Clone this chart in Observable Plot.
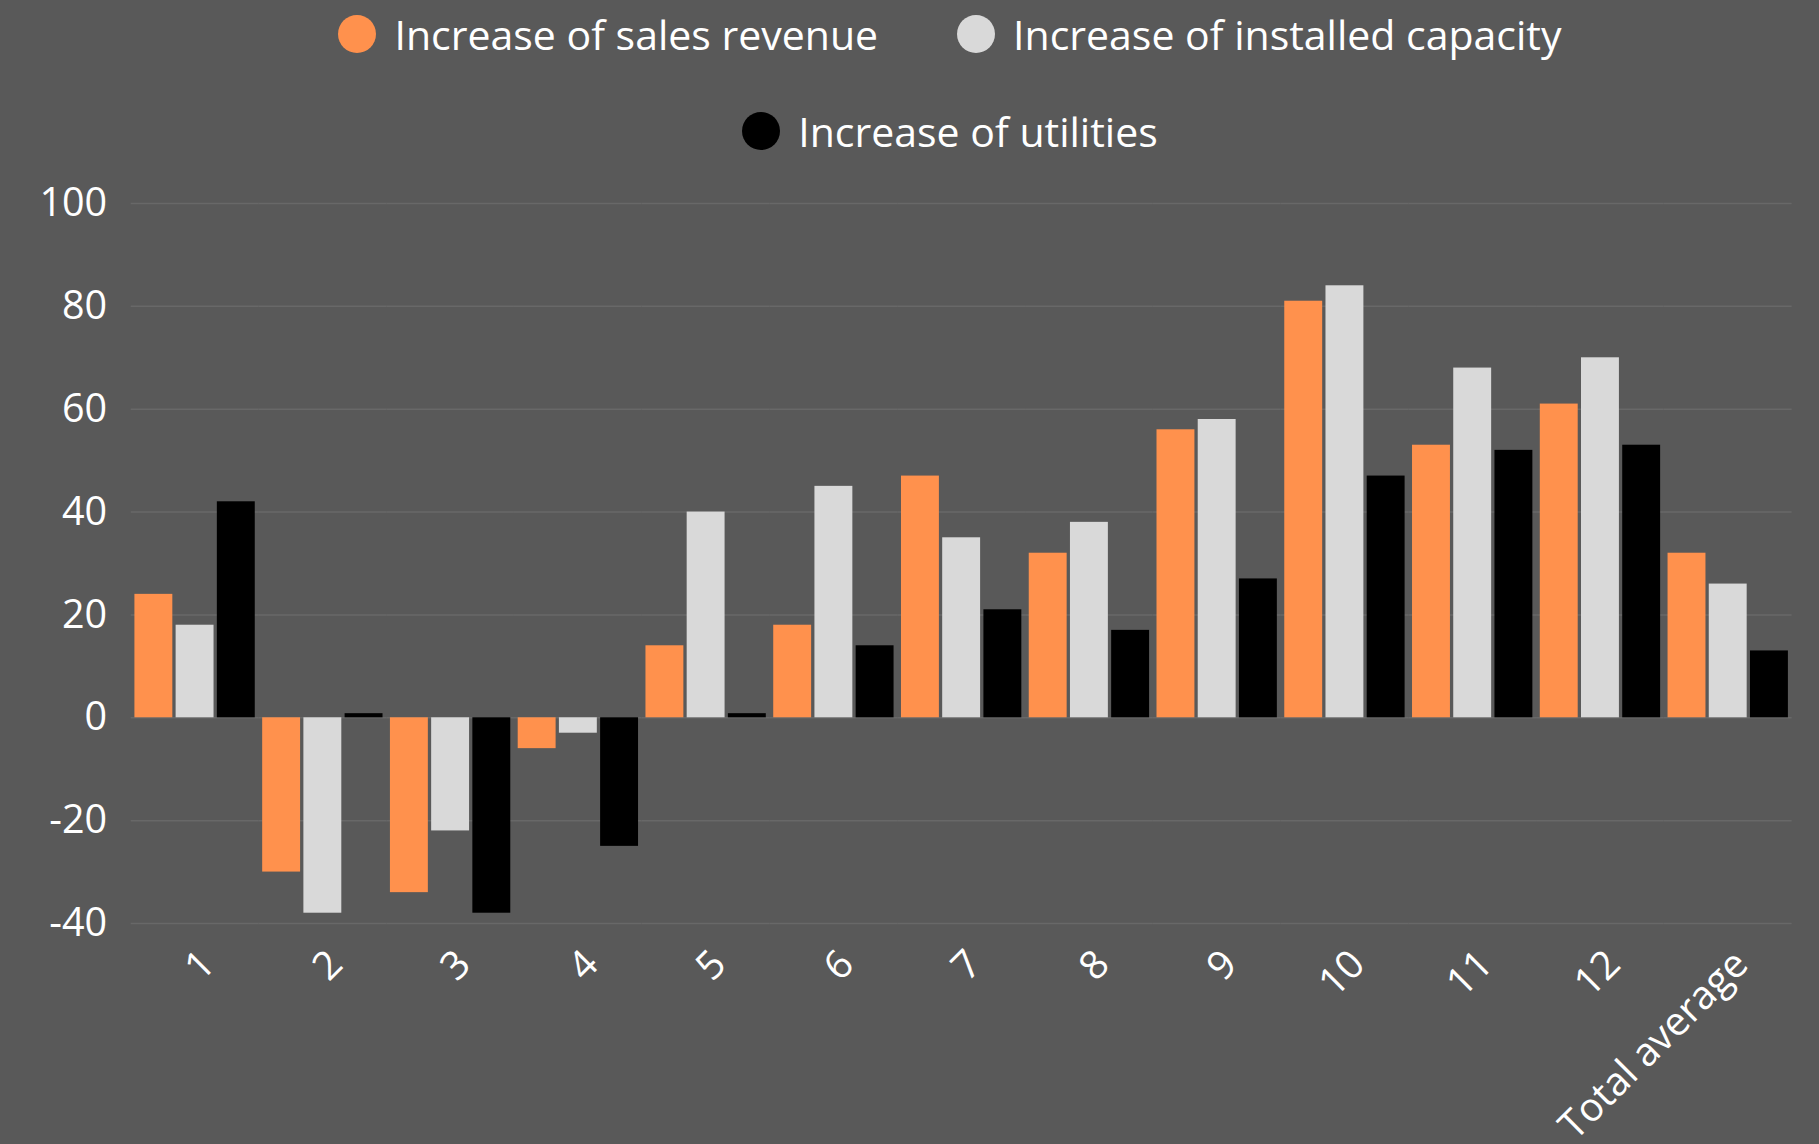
<!DOCTYPE html>
<html>
<head>
<meta charset="utf-8">
<script src="https://cdn.jsdelivr.net/npm/d3@7"></script>
<script src="https://cdn.jsdelivr.net/npm/@observablehq/plot@0.6"></script>
<style>
  html, body { margin: 0; padding: 0; background: #595959; width: 1819px; height: 1144px; overflow: hidden; }
  #root { position: relative; width: 1819px; height: 1144px; font-family: "Open Sans", sans-serif; }
  #legend { position: absolute; top: 8.5px; left: 300px; width: 1300px; display: flex; flex-wrap: wrap; justify-content: center; column-gap: 79px; row-gap: 47px; }
  .item { display: flex; align-items: center; gap: 18px; height: 50px; }
  .swatch { width: 38px; height: 38px; border-radius: 50%; }
  .label { color: #ffffff; font-size: 41px; line-height: 50px; white-space: nowrap; }
  #chart { position: absolute; top: 170px; left: 0; }
</style>
</head>
<body>
<div id="root">
  <div id="legend"></div>
  <div id="chart"></div>
</div>
<script>
const groups = ["1", "2", "3", "4", "5", "6", "7", "8", "9", "10", "11", "12", "Total average"];
const series = ["Increase of sales revenue", "Increase of installed capacity", "Increase of utilities"];
const salesRevenue = [24, -30, -34, -6, 14, 18, 47, 32, 56, 81, 53, 61, 32];
const installedCapacity = [18, -38, -22, -3, 40, 45, 35, 38, 58, 84, 68, 70, 26];
const utilities = [42, 0.8, -38, -25, 0.8, 14, 21, 17, 27, 47, 52, 53, 13];
const colors = ["#FF914D", "#D9D9D9", "#000000"];
const yTicks = [-40, -20, 0, 20, 40, 60, 80, 100];

const seriesValues = [salesRevenue, installedCapacity, utilities];
const data = groups.flatMap((g, i) => series.map((s, j) => ({group: g, series: s, value: seriesValues[j][i]})));

// legend
const legend = document.getElementById("legend");
series.forEach((s, j) => {
  const item = document.createElement("div");
  item.className = "item";
  const sw = document.createElement("span");
  sw.className = "swatch";
  sw.style.background = colors[j];
  const lb = document.createElement("span");
  lb.className = "label";
  lb.textContent = s;
  item.appendChild(sw);
  item.appendChild(lb);
  legend.appendChild(item);
});

const chart = Plot.plot({
  width: 1819,
  height: 974,
  marginTop: 33,
  marginBottom: 221,
  marginLeft: 130.7,
  marginRight: 27.4,
  style: {background: "transparent", color: "#ffffff", fontFamily: "'Open Sans', sans-serif", fontSize: "39.5px", overflow: "visible"},
  facet: {data: data, x: "group"},
  fx: {domain: groups, paddingInner: 0, paddingOuter: 0, round: false, axis: null, label: null},
  x: {domain: series, axis: null, paddingInner: 0.08, paddingOuter: 0.09, round: false},
  y: {domain: [-40, 100], ticks: yTicks, tickFormat: d => String(d), tickSize: 0, tickPadding: 24, label: null},
  color: {domain: series, range: colors},
  marks: [
    Plot.ruleY(yTicks, {stroke: "#686868", strokeWidth: 1.5}),
    Plot.barY(data, {x: "series", y: "value", fill: "series"}),
    Plot.text(data, Plot.selectFirst({
      text: "group",
      frameAnchor: "bottom",
      rotate: -45,
      textAnchor: "end",
      dx: 22,
      dy: 43,
      fill: "#ffffff",
      fontSize: 39.5
    }))
  ]
});
document.getElementById("chart").appendChild(chart);
</script>
</body>
</html>
